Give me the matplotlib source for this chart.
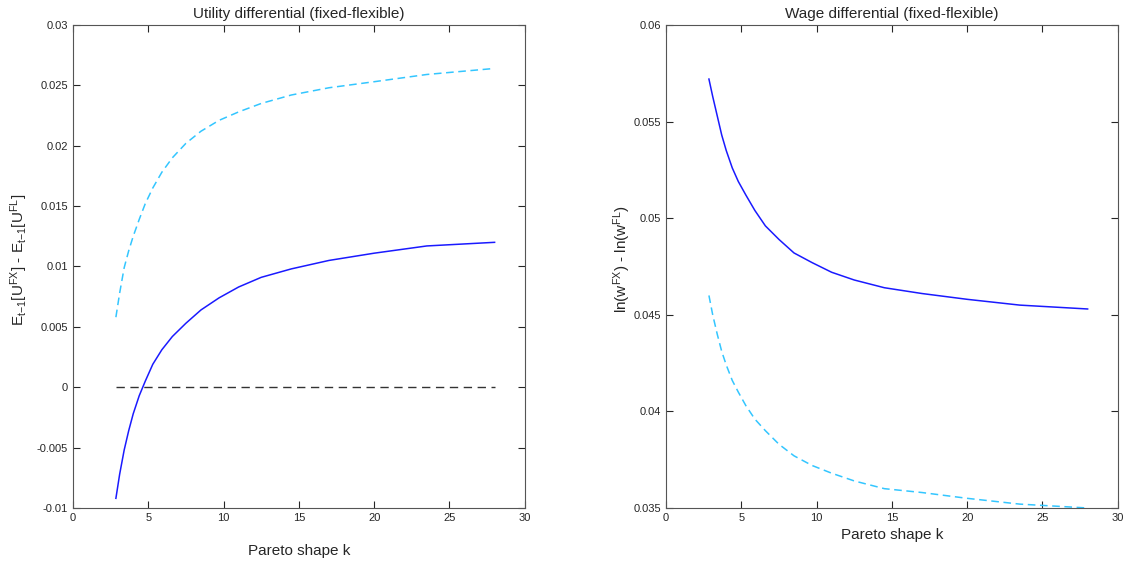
import matplotlib
matplotlib.use("Agg")
import matplotlib.pyplot as plt

plt.rcParams["font.family"] = ["Liberation Sans", "DejaVu Sans"]
plt.rcParams["mathtext.fontset"] = "custom"
plt.rcParams["mathtext.rm"] = "Liberation Sans"
plt.rcParams["mathtext.it"] = "Liberation Sans"

# Pareto shape grid shared by all series
k_vals = [2.85, 3.1, 3.4, 3.7, 4.0, 4.4, 4.8, 5.3, 5.9, 6.6,
          7.5, 8.5, 9.7, 11, 12.5, 14.5, 17, 20, 23.5, 28]

# utility differential (fixed - flexible)
util_solid = [-0.0092, -0.0072, -0.0052, -0.0036, -0.0022, -0.0007, 0.0005,
              0.0019, 0.0031, 0.0042, 0.0053, 0.0064, 0.0074, 0.0083,
              0.0091, 0.0098, 0.0105, 0.0111, 0.0117, 0.0120]
util_dashed = [0.0058, 0.0078, 0.0099, 0.0113, 0.0125, 0.0139, 0.0152,
               0.0165, 0.0178, 0.0190, 0.0202, 0.0212, 0.0221, 0.0228,
               0.0235, 0.0242, 0.0248, 0.0253, 0.0259, 0.0264]
zero_line = [0.0] * len(k_vals)

# log wage differential (fixed - flexible)
wage_solid = [0.0572, 0.0563, 0.0553, 0.0543, 0.0535, 0.0526, 0.0519,
              0.0512, 0.0504, 0.0496, 0.0489, 0.0482, 0.0477, 0.0472,
              0.0468, 0.0464, 0.0461, 0.0458, 0.0455, 0.0453]
wage_dashed = [0.0460, 0.0450, 0.0440, 0.0431, 0.0424, 0.0416, 0.0410,
               0.0403, 0.0396, 0.0390, 0.0383, 0.0377, 0.0372, 0.0368,
               0.0364, 0.0360, 0.0358, 0.0355, 0.0352, 0.0350]

x_ticks = [0, 5, 10, 15, 20, 25, 30]
util_ticks = [-0.01, -0.005, 0, 0.005, 0.01, 0.015, 0.02, 0.025, 0.03]
util_labels = ["-0.01", "-0.005", "0", "0.005", "0.01", "0.015", "0.02", "0.025", "0.03"]
wage_ticks = [0.035, 0.04, 0.045, 0.05, 0.055, 0.06]
wage_labels = ["0.035", "0.04", "0.045", "0.05", "0.055", "0.06"]

BLUE = "#1a1aff"
CYAN = "#33c6ff"
DARK = "#262626"

fig = plt.figure(figsize=(11.35, 5.61), dpi=100)
ax1 = fig.add_axes([0.0643, 0.0945, 0.398, 0.861])
ax2 = fig.add_axes([0.5868, 0.0945, 0.398, 0.861])


def style(ax):
    ax.tick_params(direction="in", top=True, right=True, length=5,
                   labelsize=8, colors=DARK, width=0.8)
    for sp in ax.spines.values():
        sp.set_color("#555555")
        sp.set_linewidth(0.8)


ax1.plot(k_vals, util_dashed, "--", color=CYAN, lw=1.1, dashes=(5, 3))
ax1.plot(k_vals, util_solid, "-", color=BLUE, lw=1.1)
ax1.plot(k_vals, zero_line, "--", color="#333333", lw=1.0, dashes=(6, 4))
ax1.set_xlim(0, 30)
ax1.set_ylim(-0.01, 0.03)
ax1.set_xticks(x_ticks)
ax1.set_yticks(util_ticks)
ax1.set_yticklabels(util_labels)
ax1.set_title("Utility differential (fixed-flexible)", fontsize=11, color=DARK, pad=5)
ax1.set_xlabel("Pareto shape k", fontsize=11, color=DARK, labelpad=15)
ax1.set_ylabel(r"E$_{t\mathrm{-}1}$[U$^{FX}$] - E$_{t\mathrm{-}1}$[U$^{FL}$]",
               fontsize=11, color=DARK)
ax1.yaxis.set_label_coords(-0.095, 0.513)
style(ax1)

ax2.plot(k_vals, wage_solid, "-", color=BLUE, lw=1.1)
ax2.plot(k_vals, wage_dashed, "--", color=CYAN, lw=1.1, dashes=(5, 3))
ax2.set_xlim(0, 30)
ax2.set_ylim(0.035, 0.06)
ax2.set_xticks(x_ticks)
ax2.set_yticks(wage_ticks)
ax2.set_yticklabels(wage_labels)
ax2.set_title("Wage differential (fixed-flexible)", fontsize=11, color=DARK, pad=5)
ax2.set_xlabel("Pareto shape k", fontsize=11, color=DARK, labelpad=4)
ax2.set_ylabel(r"ln(w$^{FX}$) - ln(w$^{FL}$)", fontsize=11, color=DARK)
ax2.yaxis.set_label_coords(-0.073, 0.515)
style(ax2)

fig.savefig("out.png", dpi=100)
